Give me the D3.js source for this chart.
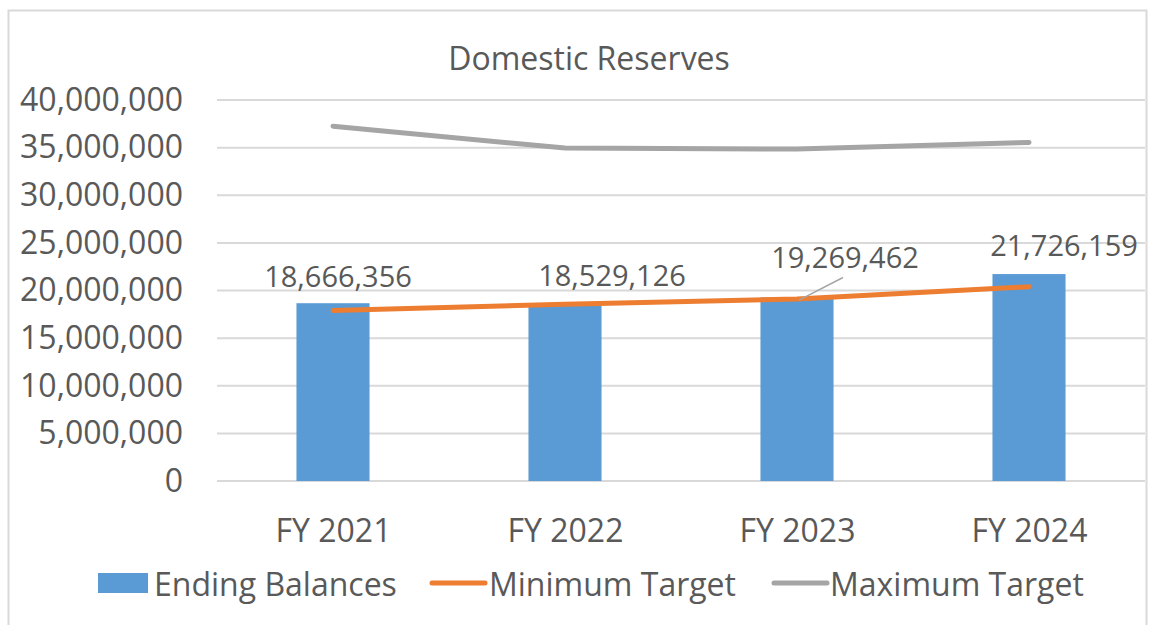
<!DOCTYPE html>
<html>
<head>
<meta charset="utf-8">
<script src="https://cdn.jsdelivr.net/npm/d3@7"></script>
<style>
  body { margin: 0; background: #fff; }
  text { font-family: "Open Sans", "Noto Sans", sans-serif; fill: #595959; }
</style>
</head>
<body>
<div id="chart"></div>
<script>
  // chart data
  var categories = ["FY 2021", "FY 2022", "FY 2023", "FY 2024"];
  var endingBalances = [18666356, 18529126, 19269462, 21726159];
  var minimumTarget = [17900000, 18550000, 19100000, 20400000];
  var maximumTarget = [37250000, 34950000, 34850000, 35550000];
  var yTicks = [0, 5000000, 10000000, 15000000, 20000000, 25000000, 30000000, 35000000, 40000000];
  var seriesNames = ["Ending Balances", "Minimum Target", "Maximum Target"];

  var W = 1156, H = 625;
  var margin = {top: 100, right: 11, bottom: 144, left: 217},
      width = W - margin.left - margin.right,
      height = H - margin.top - margin.bottom;

  var svg = d3.select("#chart").append("svg")
      .attr("width", W)
      .attr("height", H);

  // outer chart border
  svg.append("rect")
      .attr("x", 8.5).attr("y", 10.5)
      .attr("width", 1138).attr("height", 625)
      .attr("fill", "none")
      .attr("stroke", "#d9d9d9")
      .attr("stroke-width", 2);

  svg.append("text")
      .attr("x", 589).attr("y", 57)
      .attr("text-anchor", "middle")
      .attr("dominant-baseline", "central")
      .style("font-size", "32px")
      .text("Domestic Reserves");

  var g = svg.append("g")
      .attr("transform", "translate(" + margin.left + "," + margin.top + ")");

  var x = d3.scaleBand().domain(categories).range([0, width]).paddingInner(0.685).paddingOuter(0.3425);
  var xc = d3.scalePoint().domain(categories).range([0, width]).padding(0.5);
  var y = d3.scaleLinear().domain([0, 40000000]).range([height, 0]);

  // gridlines
  g.append("g")
      .selectAll("line")
      .data(yTicks)
      .join("line")
      .attr("x1", 0).attr("x2", width)
      .attr("y1", d => y(d)).attr("y2", d => y(d))
      .attr("stroke", "#d9d9d9")
      .attr("stroke-width", 2);

  // y axis labels
  var yAxis = g.append("g")
      .call(d3.axisLeft(y).tickValues(yTicks).tickSize(0).tickPadding(34).tickFormat(d3.format(",")));
  yAxis.select(".domain").remove();
  yAxis.selectAll("text")
      .style("font-size", "32px")
      .style("font-family", "'Open Sans', sans-serif")
      .attr("fill", "#595959");

  // x axis labels
  var xAxis = g.append("g")
      .attr("transform", "translate(0," + height + ")")
      .call(d3.axisBottom(xc).tickSize(0).tickPadding(38));
  xAxis.select(".domain").remove();
  xAxis.selectAll("text")
      .style("font-size", "32px")
      .style("font-family", "'Open Sans', sans-serif")
      .attr("fill", "#595959");

  // bars
  g.selectAll(".bar")
      .data(endingBalances)
      .join("rect")
      .attr("class", "bar")
      .attr("x", (d, i) => x(categories[i]))
      .attr("width", x.bandwidth())
      .attr("y", d => y(d))
      .attr("height", d => height - y(d))
      .attr("fill", "#5b9bd5");

  var line = d3.line()
      .x((d, i) => xc(categories[i]))
      .y(d => y(d));

  g.append("path")
      .datum(minimumTarget)
      .attr("d", line)
      .attr("fill", "none")
      .attr("stroke", "#ed7d31")
      .attr("stroke-width", 5)
      .attr("stroke-linecap", "round")
      .attr("stroke-linejoin", "round");

  g.append("path")
      .datum(maximumTarget)
      .attr("d", line)
      .attr("fill", "none")
      .attr("stroke", "#a5a5a5")
      .attr("stroke-width", 5)
      .attr("stroke-linecap", "round")
      .attr("stroke-linejoin", "round");

  // data labels (offsets mimic the Excel placement)
  var labelOffsets = [[5, -28], [47, -30], [48, -41], [35, -30]];
  var fmt = d3.format(",");
  g.selectAll(".dlabel")
      .data(endingBalances)
      .join("text")
      .attr("class", "dlabel")
      .attr("x", (d, i) => xc(categories[i]) + labelOffsets[i][0])
      .attr("y", (d, i) => y(d) + labelOffsets[i][1])
      .attr("text-anchor", "middle")
      .attr("dominant-baseline", "central")
      .style("font-size", "29px")
      .text(d => fmt(d));

  // leader line for FY 2023 label
  g.append("line")
      .attr("x1", xc(categories[2]) + 2)
      .attr("y1", y(minimumTarget[2]) + 1)
      .attr("x2", xc(categories[2]) + 46)
      .attr("y2", y(endingBalances[2]) - 20)
      .attr("stroke", "#a5a5a5")
      .attr("stroke-width", 1.5);

  // legend
  var legend = svg.append("g").attr("transform", "translate(0,583)");
  legend.append("rect")
      .attr("x", 98).attr("y", -10).attr("width", 50).attr("height", 20)
      .attr("fill", "#5b9bd5");
  legend.append("text").attr("x", 154).attr("y", 0).attr("dominant-baseline", "central")
      .style("font-size", "32px").text(seriesNames[0]);
  legend.append("line")
      .attr("x1", 432).attr("x2", 485).attr("y1", 0).attr("y2", 0)
      .attr("stroke", "#ed7d31").attr("stroke-width", 5).attr("stroke-linecap", "round");
  legend.append("text").attr("x", 489).attr("y", 0).attr("dominant-baseline", "central")
      .style("font-size", "32px").text(seriesNames[1]);
  legend.append("line")
      .attr("x1", 774).attr("x2", 827).attr("y1", 0).attr("y2", 0)
      .attr("stroke", "#a5a5a5").attr("stroke-width", 5).attr("stroke-linecap", "round");
  legend.append("text").attr("x", 830).attr("y", 0).attr("dominant-baseline", "central")
      .style("font-size", "32px").text(seriesNames[2]);
</script>
</body>
</html>
